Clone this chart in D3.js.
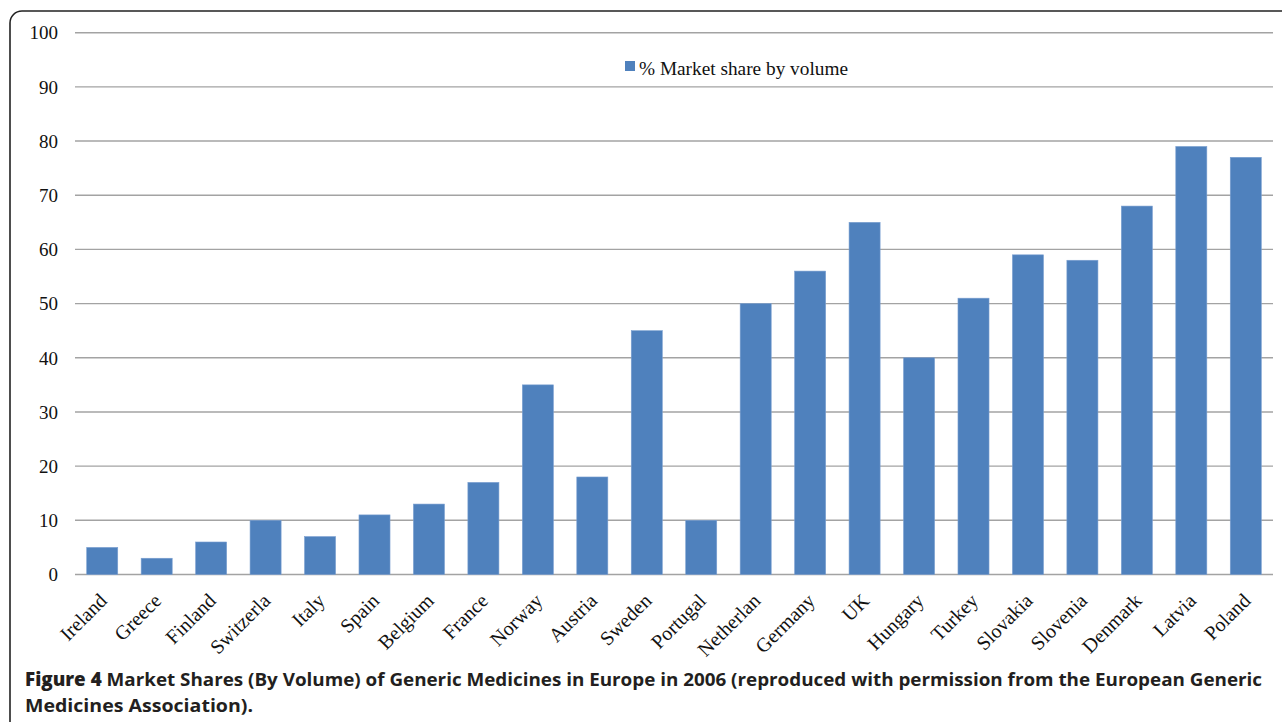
<!DOCTYPE html>
<html><head><meta charset="utf-8">
<script src="https://cdn.jsdelivr.net/npm/d3@7"></script>
<style>body{margin:0;background:#fff;} svg{display:block;}</style>
</head><body>
<svg id="c" width="1282" height="722"></svg>
<script>
const categories = ["Ireland","Greece","Finland","Switzerla","Italy","Spain","Belgium","France","Norway","Austria","Sweden","Portugal","Netherlan","Germany","UK","Hungary","Turkey","Slovakia","Slovenia","Denmark","Latvia","Poland"];
const values = [5,3,6,10,7,11,13,17,35,18,45,10,50,56,65,40,51,59,58,68,79,77];
const yTicks = [0,10,20,30,40,50,60,70,80,90,100];
const seriesName = "% Market share by volume";
const captionBold = "Figure 4";
const captionLine1 = " Market Shares (By Volume) of Generic Medicines in Europe in 2006 (reproduced with permission from the European Generic";
const captionLine2 = "Medicines Association).";

const svg = d3.select("#c");
// frame
svg.append("rect").attr("x",10).attr("y",11).attr("width",1300).attr("height",760)
  .attr("rx",12).attr("fill","none").attr("stroke","#222").attr("stroke-width",1.6);

const x = d3.scaleBand().domain(categories).range([75,1273]).paddingInner(0.43).paddingOuter(0.215);
const y = d3.scaleLinear().domain([0,100]).range([574.5,32.7]);

const serif = "'Liberation Serif', 'DejaVu Serif', serif";
// gridlines
svg.append("g").selectAll("line").data(yTicks).join("line")
  .attr("x1",75).attr("x2",1273).attr("y1",d=>y(d)).attr("y2",d=>y(d))
  .attr("stroke","#a3a3a3").attr("stroke-width",1.4);
// y axis labels
const yAxis = d3.axisLeft(y).tickValues(yTicks).tickSize(0).tickPadding(0);
const yg = svg.append("g").attr("transform","translate(58,0)").call(yAxis);
yg.select(".domain").remove();
yg.selectAll("text").attr("font-family",serif).attr("font-size",19).attr("fill","#111").attr("dy","0.33em");

// bars
svg.append("g").selectAll("rect").data(values).join("rect")
  .attr("x",(d,i)=>x(categories[i])).attr("width",x.bandwidth())
  .attr("y",d=>y(d)).attr("height",d=>y(0)-y(d))
  .attr("fill","#4f81bd").attr("stroke","#7a9fd0").attr("stroke-width",0.6);

// x labels
const xg = svg.append("g");
xg.selectAll("text").data(categories).join("text")
  .attr("transform",d=>`translate(${x(d)+x.bandwidth()/2+1},${597}) rotate(-45)`)
  .attr("text-anchor","end").attr("font-family",serif).attr("font-size",20).attr("fill","#111")
  .attr("dy","0.35em")
  .text(d=>d);

// legend
svg.append("rect").attr("x",625).attr("y",61).attr("width",10).attr("height",10).attr("fill","#4f81bd");
svg.append("text").attr("x",639).attr("y",74.5).attr("font-family",serif).attr("font-size",19).attr("fill","#111")
  .attr("textLength",209).attr("lengthAdjust","spacingAndGlyphs").text(seriesName);

// caption
const sans = "'Open Sans', 'Noto Sans', sans-serif";
const cap = svg.append("text").attr("x",25).attr("y",686).attr("font-family",sans).attr("font-size",18.5)
  .attr("fill","#231f20").attr("textLength",1237).attr("lengthAdjust","spacingAndGlyphs");
cap.append("tspan").attr("font-weight",800).text(captionBold);
cap.append("tspan").attr("font-weight",700).text(captionLine1);
svg.append("text").attr("x",25).attr("y",712).attr("font-family",sans).attr("font-size",18.5).attr("font-weight",700)
  .attr("fill","#231f20").attr("textLength",228).attr("lengthAdjust","spacingAndGlyphs").text(captionLine2);
</script>
</body></html>
